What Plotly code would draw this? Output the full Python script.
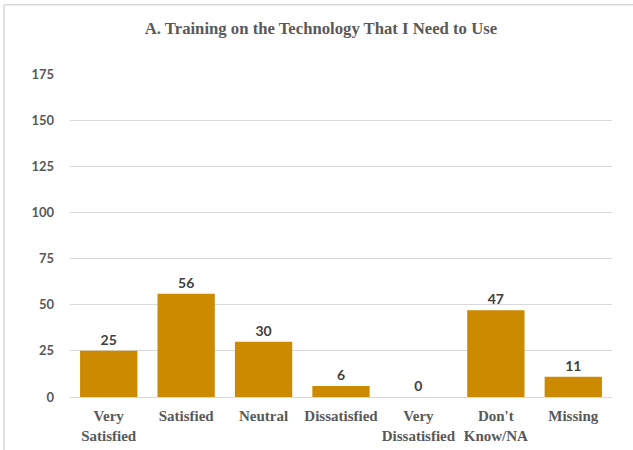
import plotly.graph_objects as go

categories = ["Very<br>Satisfied", "Satisfied", "Neutral", "Dissatisfied",
              "Very<br>Dissatisfied", "Don't<br>Know/NA", "Missing"]
counts = [25, 56, 30, 6, 0, 47, 11]
y_ticks = [0, 25, 50, 75, 100, 125, 150, 175]
title_text = "A. Training on the Technology That I Need to Use"

W, H = 633, 456
ml, mr, mt, mb = 70, 21, 74, 56
pw, ph = W - ml - mr, H - mt - mb

def py(p):
    return (H - mb - p) / ph

def px(p):
    return (p - ml) / pw

fig = go.Figure(go.Bar(
    x=categories, y=counts,
    marker=dict(color="#CC8A00", line=dict(width=0)),
    text=[str(v) for v in counts], textposition="outside",
    textfont=dict(family="Lato", size=14, color="#404040", weight="bold"),
    cliponaxis=False,
    width=0.74,
))

fig.update_layout(
    width=W, height=H,
    margin=dict(l=ml, r=mr, t=mt, b=mb),
    paper_bgcolor="white", plot_bgcolor="white",
    title=dict(text=title_text, x=0.507, xref="container", xanchor="center",
               y=1 - 28.4 / H, yanchor="middle",
               font=dict(family="Liberation Serif", size=16.7, color="#595959", weight="bold")),
    xaxis=dict(tickfont=dict(family="Liberation Serif", size=15, color="#595959", weight="bold"),
               showgrid=False, showline=False, ticks="", ticklabelstandoff=8),
    yaxis=dict(range=[0, 175], tickvals=y_ticks, showgrid=True, gridcolor="#D9D9D9",
               gridwidth=1, zeroline=True, zerolinecolor="#D9D9D9", zerolinewidth=1,
               tickfont=dict(family="Lato", size=13, color="#595959", weight="bold"),
               ticks="", ticklabelstandoff=15, showline=False),
    showlegend=False,
    bargap=0.26,
    shapes=[
        dict(type="line", xref="paper", yref="paper",
             x0=px(4), x1=px(633),
             y0=py(4), y1=py(4),
             line=dict(color="#D9D9D9", width=1.5)),
        dict(type="line", xref="paper", yref="paper",
             x0=px(4), x1=px(4),
             y0=py(4), y1=py(H),
             line=dict(color="#D9D9D9", width=1.5)),
    ],
)

fig.write_html(
    "out.html", config={"displayModeBar": False},
    post_script=("var de=document.documentElement, b=document.body;"
                 "de.style.margin='0'; b.style.margin='0'; b.style.padding='0';"
                 "de.style.overflow='hidden'; b.style.overflow='hidden';"
                 "window.scrollTo(0,0);"),
)
